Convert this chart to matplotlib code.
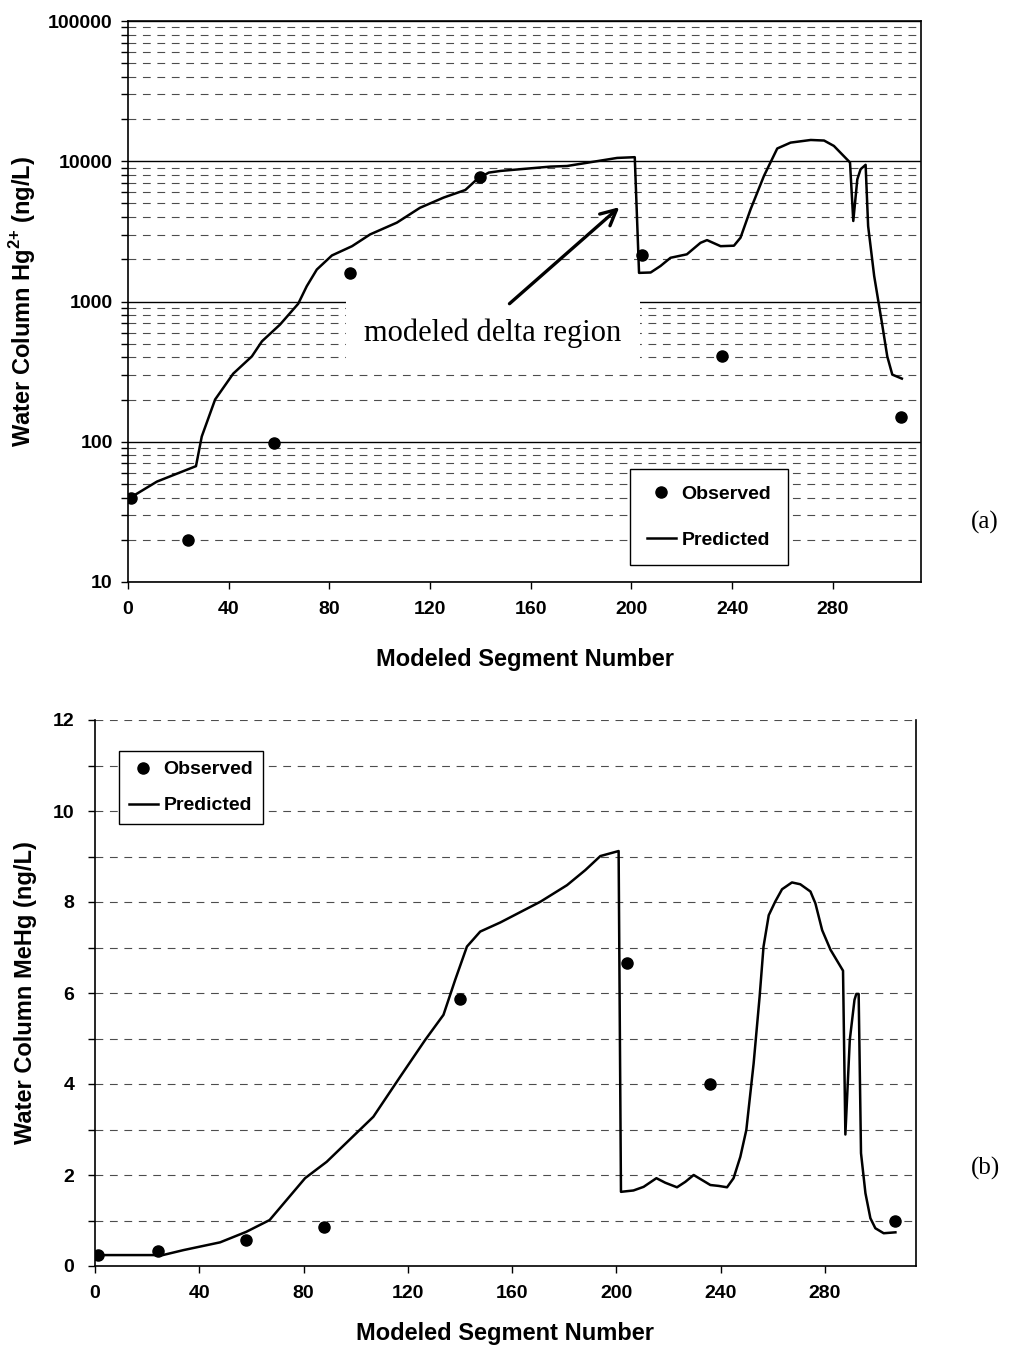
import matplotlib
matplotlib.use("Agg")
import matplotlib.pyplot as plt
from matplotlib.ticker import FixedLocator, FuncFormatter, NullFormatter, LogLocator

plt.rcParams['font.family'] = ['Liberation Sans', 'DejaVu Sans']
plt.rcParams['font.weight'] = 'bold'
plt.rcParams['mathtext.fontset'] = 'custom'
plt.rcParams['mathtext.rm'] = 'Liberation Sans:bold'
plt.rcParams['mathtext.bf'] = 'Liberation Sans:bold'

# observed stations (segment number)
obs_seg = [1, 24, 58, 88, 140, 204, 236, 307]
obs_hg = [40, 20, 98, 1600, 7700, 2130, 410, 151]
obs_mehg = [0.25, 0.33, 0.57, 0.86, 5.86, 6.67, 4.01, 0.98]

# predicted Hg2+ profile
pred_hg_seg = [1, 11.5, 27, 29.3, 34.6, 41.8, 49.2, 53.2, 60.4, 67.6, 71, 75, 81, 89,
               96.2, 106.8, 116, 125.4, 134, 138.6, 143.3, 148, 167.8, 174.4, 194.3,
               201.3, 203, 207.6, 211.5, 215.5, 222, 227.4, 230, 235.4, 240.7, 243.3,
               247.3, 252.6, 257.9, 263.2, 271.2, 276.5, 280.4, 286.8, 288.1, 289.7,
               291, 293, 294, 296.4, 299.5, 301.6, 303.6, 307.4]
pred_hg = [40, 52, 67, 109, 200, 306, 406, 520, 685, 963, 1285, 1690, 2130, 2480,
           3010, 3650, 4660, 5510, 6240, 7430, 8300, 8530, 9160, 9250, 10560,
           10690, 1600, 1610, 1790, 2050, 2170, 2620, 2740, 2480, 2500, 2850,
           4540, 7850, 12330, 13580, 14180, 14050, 12860, 9800, 3750, 7430,
           8770, 9430, 3450, 1520, 700, 406, 301, 282]

# predicted MeHg profile
pred_mehg_seg = [1, 26, 34, 48, 58, 67, 80.6, 88.9, 106.8, 117.1, 126.7, 133.7, 138.2,
                 142.7, 147.8, 155.5, 171, 181.1, 188.1, 193.9, 200.9, 201.8, 206.6,
                 210.5, 215.4, 218.8, 223.3, 226.5, 229.7, 236.1, 239.3, 242.5, 245,
                 247.6, 249.9, 252.7, 255, 256.5, 258.5, 261, 263.6, 267.4, 270.6,
                 274.5, 276.4, 279, 282.2, 287, 287.9, 289.6, 291.4, 292.1, 293,
                 293.9, 295.6, 297.5, 299.4, 302.6, 307.1]
pred_mehg = [0.24, 0.24, 0.35, 0.52, 0.75, 1.01, 1.93, 2.29, 3.28, 4.16, 4.97, 5.52, 6.29,
             7.02, 7.35, 7.55, 8.01, 8.37, 8.70, 9.01, 9.12, 1.63, 1.66,
             1.74, 1.93, 1.83, 1.73, 1.85, 2.0, 1.78, 1.76, 1.73, 1.93,
             2.40, 2.99, 4.45, 5.92, 7.02, 7.71, 8.01, 8.28, 8.43, 8.39,
             8.23, 7.97, 7.38, 6.95, 6.49, 2.89, 4.97, 5.85, 5.98, 5.98,
             2.48, 1.60, 1.05, 0.83, 0.72, 0.74]

x_ticks = [0, 40, 80, 120, 160, 200, 240, 280]

W, H = 1023, 1351
fig = plt.figure(figsize=(W / 100, H / 100), dpi=100)

dash = (0, (7, 6))
tick_fs = 14
label_fs = 17
serif = ['Liberation Serif', 'DejaVu Serif']


def style_axes(ax):
    for s in ax.spines.values():
        s.set_linewidth(1.2)
    ax.tick_params(direction='out', length=5, width=1, labelsize=tick_fs)
    ax.tick_params(axis='x', pad=9)
    ax.set_xlim(0, 315)
    ax.xaxis.set_major_locator(FixedLocator(x_ticks))
    ax.set_axisbelow(True)


# ---- (a) Hg2+ ----
ax1 = fig.add_axes([128 / W, 1 - 582 / H, 793 / W, 561 / H])
style_axes(ax1)
ax1.set_yscale('log')
ax1.set_ylim(10, 100000)
ax1.yaxis.set_major_locator(FixedLocator([10, 100, 1000, 10000, 100000]))
ax1.yaxis.set_major_formatter(FuncFormatter(lambda v, p: f'{int(round(v))}'))
ax1.yaxis.set_minor_locator(LogLocator(base=10, subs=range(2, 10)))
ax1.yaxis.set_minor_formatter(NullFormatter())
ax1.tick_params(axis='y', which='minor', direction='out', length=5, width=1)
ax1.tick_params(axis='y', pad=6)
ax1.grid(True, which='major', axis='y', color='black', lw=1.0)
ax1.grid(True, which='minor', axis='y', color='0.3', lw=0.8, ls=dash)

ax1.plot(pred_hg_seg, pred_hg, color='black', lw=1.8, label='Predicted', zorder=3)
ax1.plot(obs_seg, obs_hg, 'o', color='black', ms=8, label='Observed', zorder=4)

ax1.annotate('', xy=(196, 4850), xytext=(150.7, 936),
             arrowprops=dict(arrowstyle='->', lw=2.4, color='black', mutation_scale=28),
             zorder=5)
ax1.text(145, 590, 'modeled delta region', family=serif,
         fontweight='normal', fontsize=22, ha='center', va='center', zorder=2.5,
         bbox=dict(boxstyle='square,pad=0.6', fc='white', ec='none'))

ax1.set_xlabel('Modeled Segment Number', fontsize=label_fs, fontweight='bold')
ax1.xaxis.set_label_coords(0.5, -0.118)
ax1.set_ylabel(r'Water Column Hg$^{2{+}}$ (ng/L)', fontsize=label_fs, fontweight='bold')
ax1.yaxis.set_label_coords(-0.113, 0.5)

h, l = ax1.get_legend_handles_labels()
leg1 = ax1.legend([h[1], h[0]], [l[1], l[0]], loc='upper left',
                  bbox_to_anchor=(630 / W, 1 - 469 / H), bbox_transform=fig.transFigure,
                  fancybox=False, edgecolor='black', framealpha=1, borderaxespad=0,
                  prop=dict(weight='bold', size=14), labelspacing=1.45,
                  handlelength=1.5, handletextpad=0.3, borderpad=0.85)
leg1.get_frame().set_linewidth(1.0)

fig.text(985 / W, 1 - 522 / H, '(a)', family=serif,
         fontweight='normal', fontsize=18, ha='center', va='center')

# ---- (b) MeHg ----
ax2 = fig.add_axes([95 / W, 1 - 1266 / H, 821 / W, 546 / H])
style_axes(ax2)
ax2.set_ylim(0, 12)
ax2.yaxis.set_major_locator(FixedLocator([0, 2, 4, 6, 8, 10, 12]))
ax2.yaxis.set_minor_locator(FixedLocator([1, 3, 5, 7, 9, 11]))
ax2.tick_params(axis='y', which='minor', direction='out', length=5, width=1)
ax2.tick_params(axis='y', pad=10)
ax2.grid(True, which='both', axis='y', color='0.3', lw=0.8, ls=dash)
ax2.spines['top'].set_visible(False)

ax2.plot(pred_mehg_seg, pred_mehg, color='black', lw=1.8, label='Predicted', zorder=3)
ax2.plot(obs_seg, obs_mehg, 'o', color='black', ms=8, label='Observed', zorder=4)

ax2.set_xlabel('Modeled Segment Number', fontsize=label_fs, fontweight='bold')
ax2.xaxis.set_label_coords(0.5, -0.102)
ax2.set_ylabel('Water Column MeHg (ng/L)', fontsize=label_fs, fontweight='bold')
ax2.yaxis.set_label_coords(-0.071, 0.5)

h, l = ax2.get_legend_handles_labels()
leg2 = ax2.legend([h[1], h[0]], [l[1], l[0]], loc='upper left',
                  bbox_to_anchor=(119 / W, 1 - 751 / H), bbox_transform=fig.transFigure,
                  fancybox=False, edgecolor='black', framealpha=1, borderaxespad=0,
                  prop=dict(weight='bold', size=14), labelspacing=0.95,
                  handlelength=1.5, handletextpad=0.3, borderpad=0.5)
leg2.get_frame().set_linewidth(1.0)

fig.text(985 / W, 1 - 1168 / H, '(b)', family=serif,
         fontweight='normal', fontsize=18, ha='center', va='center')

fig.savefig('out.png', dpi=100)
